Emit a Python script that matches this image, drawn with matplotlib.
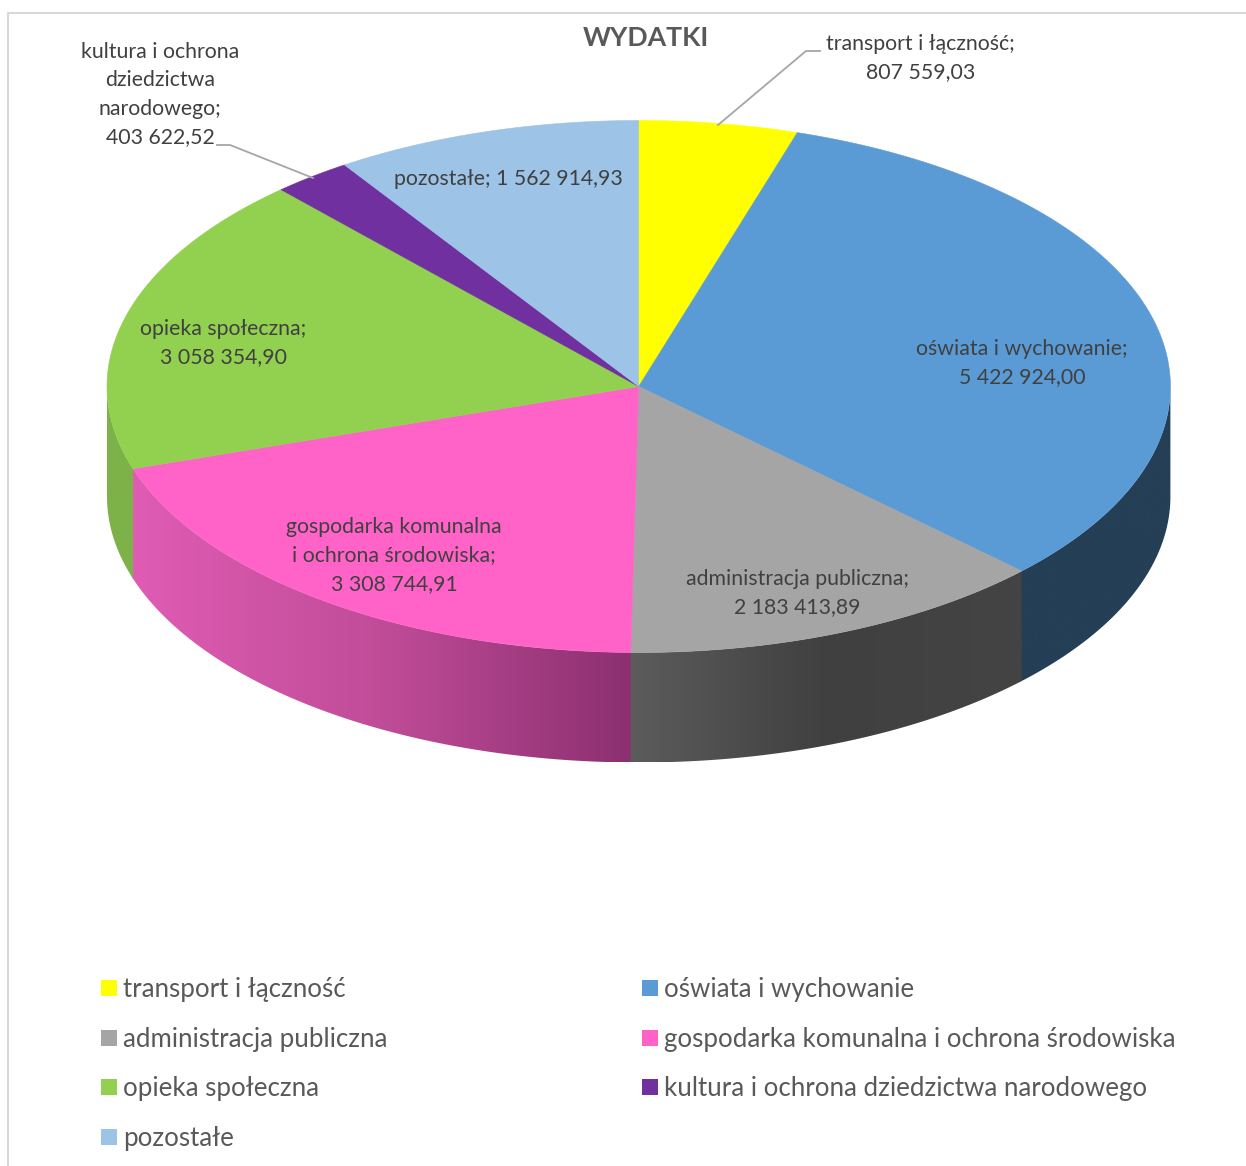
import numpy as np
import matplotlib
matplotlib.use('Agg')
import matplotlib.pyplot as plt
from matplotlib.colors import LinearSegmentedColormap
from matplotlib.patches import Polygon, Rectangle

plt.rcParams['font.family'] = ['Lato', 'DejaVu Sans']

names = ['transport i łączność', 'oświata i wychowanie', 'administracja publiczna',
         'gospodarka komunalna i ochrona środowiska', 'opieka społeczna',
         'kultura i ochrona dziedzictwa narodowego', 'pozostałe']
values = [807559.03, 5422924.00, 2183413.89, 3308744.91, 3058354.90, 403622.52, 1562914.93]
colors = ['#FFFF00', '#5B9BD5', '#A5A5A5', '#FF63C8', '#92D050', '#7030A0', '#9DC3E6']
# wall colours of each slice, left to right (only the front slices use them)
wall_stops = [
    ['#FFFF00', '#FFFF00'],
    ['#243F56', '#243F56'],
    ['#5C5C5C', '#404040', '#444444'],
    ['#E05CB4', '#C04C98', '#8C3070'],
    ['#7DB249', '#7DB249'],
    ['#7030A0', '#7030A0'],
    ['#9DC3E6', '#9DC3E6'],
]

label_lines = [
    ['transport i łączność;', '807 559,03'],
    ['oświata i wychowanie;', '5 422 924,00'],
    ['administracja publiczna;', '2 183 413,89'],
    ['gospodarka komunalna', 'i ochrona środowiska;', '3 308 744,91'],
    ['opieka społeczna;', '3 058 354,90'],
    ['kultura i ochrona', 'dziedzictwa', 'narodowego;', '403 622,52'],
    ['pozostałe; 1 562 914,93'],
]
label_pos = [(920.5, 44), (1022, 349), (797, 579), (394, 527), (223, 329), (160, 52), (508, 179)]
legend_pos = [(101, 988), (642, 988), (101, 1038), (642, 1038), (101, 1087), (642, 1087), (101, 1137)]

W, H = 1246, 1166
cx, cy, rx, ry, depth = 638.7, 386.5, 531.7, 266, 110
TEXT = '#404040'
LEGEND_TEXT = '#595959'
LEADER = '#A6A6A6'

fig = plt.figure(figsize=(W / 100, H / 100), dpi=100)
ax = fig.add_axes([0, 0, 1, 1])


def rim(t, dy=0):
    return cx + rx * np.sin(t), cy + dy - ry * np.cos(t)


edges = np.concatenate([[0], np.cumsum(values)]) / np.sum(values) * 2 * np.pi

# side wall first, only the front half is seen
for i in range(len(values)):
    a = max(edges[i], np.pi / 2)
    b = min(edges[i + 1], 3 * np.pi / 2)
    if a >= b:
        continue
    # small overlap to the left so no white seam shows between slices
    t = np.linspace(a, min(b + 0.004, 3 * np.pi / 2), 200)
    xt, yt = rim(t)
    xb, yb = rim(t[::-1], depth)
    pts = np.column_stack([np.r_[xt, xb], np.r_[yt, yb]])
    patch = Polygon(pts, closed=True, fc='none', ec='none', transform=ax.transData)
    ax.add_patch(patch)
    cmap = LinearSegmentedColormap.from_list('w', wall_stops[i])
    im = ax.imshow(np.linspace(0, 1, 256)[None, :], cmap=cmap, aspect='auto',
                   extent=[pts[:, 0].min(), pts[:, 0].max(), pts[:, 1].max(), pts[:, 1].min()])
    im.set_clip_path(patch)

# top face
for i in range(len(values)):
    t = np.linspace(edges[i], edges[i + 1], 300)
    xt, yt = rim(t)
    pts = np.column_stack([np.r_[cx, xt], np.r_[cy, yt]])
    ax.add_patch(Polygon(pts, closed=True, fc=colors[i], ec=colors[i], lw=0.4))

ax.plot([718, 806, 820], [125, 51, 51], color=LEADER, lw=1.3)
ax.plot([313, 230, 217], [178, 145, 145], color=LEADER, lw=1.3)

ax.text(646, 38.5, 'WYDATKI', fontsize=19.2, fontweight='bold', color='#595959', ha='center', va='center')

for lines, (x, y) in zip(label_lines, label_pos):
    for k, line in enumerate(lines):
        ax.text(x, y + k * 28.5, line, fontsize=15.3, color=TEXT, ha='center', va='center')

for name, col, (x, y) in zip(names, colors, legend_pos):
    ax.add_patch(Rectangle((x, y - 8), 16, 16, fc=col, ec='none'))
    ax.text(x + 22, y + 1.5, name, fontsize=18.6, color=LEGEND_TEXT, ha='left', va='center')

# chart frame, clipped by the crop on the other sides
ax.plot([8, 8, W], [H, 13, 13], color='#D9D9D9', lw=1.5)

ax.set_xlim(0, W)
ax.set_ylim(H, 0)
ax.axis('off')

fig.savefig('out.png', dpi=100, facecolor='white')
